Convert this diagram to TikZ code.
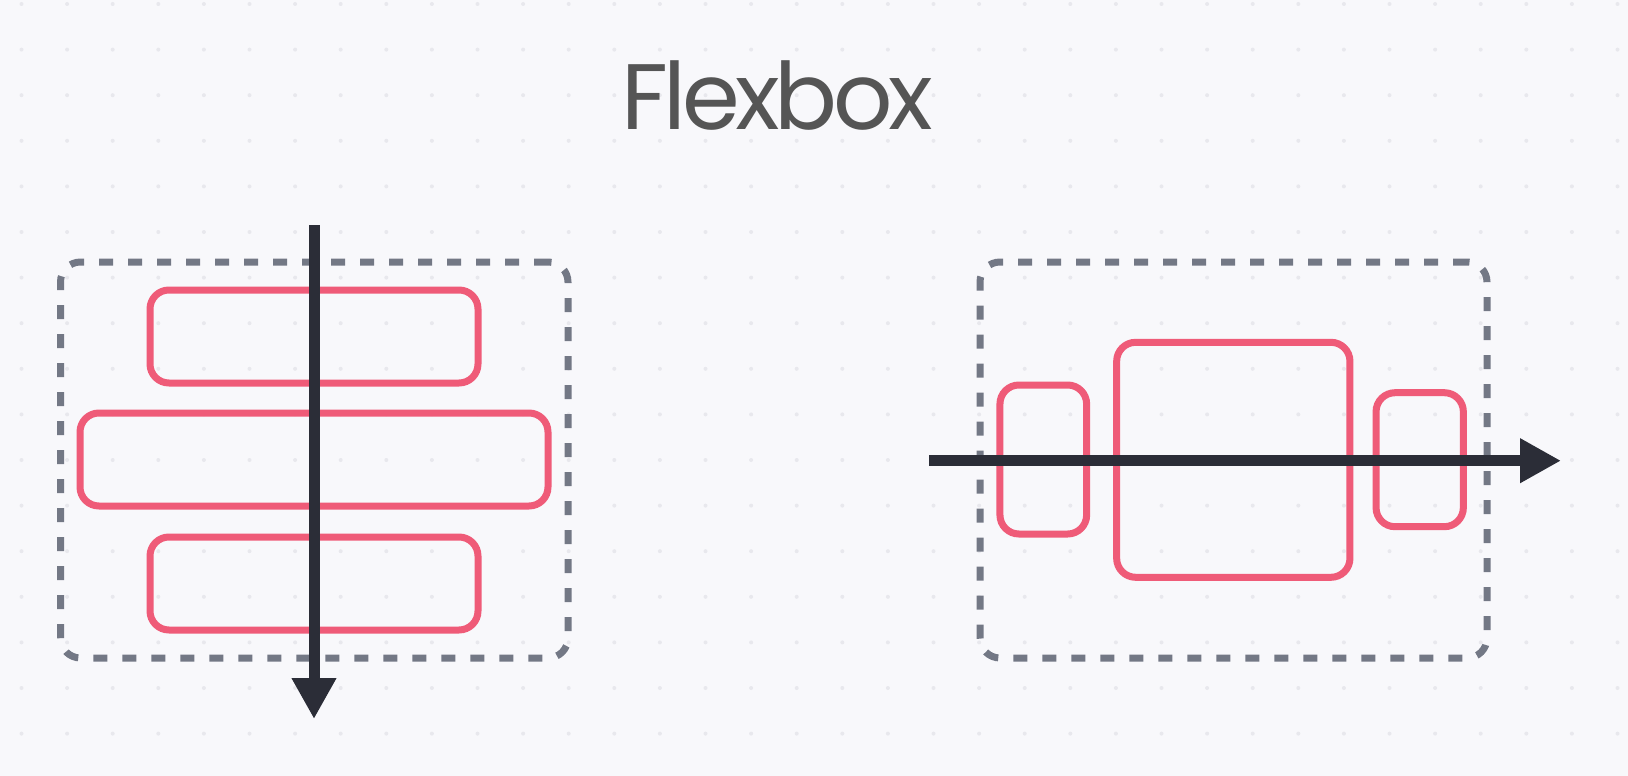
\documentclass[tikz,border=0pt]{standalone}
\usepackage{fontspec}
\newfontfamily\titlefont[LetterSpace=-5]{Poppins}
\usetikzlibrary{arrows.meta}
\definecolor{bgc}{HTML}{F8F8FB}
\definecolor{dotc}{HTML}{E8E8ED}
\definecolor{dashc}{HTML}{737885}
\definecolor{redc}{HTML}{EF5B78}
\definecolor{darkc}{HTML}{2B2D37}
\definecolor{titlec}{HTML}{555555}
\tikzset{
  container/.style={draw=dashc, line width=7pt, dash pattern=on 14pt off 15pt, rounded corners=20pt, rectangle, inner sep=0pt, outer sep=0pt},
  item/.style={draw=redc, line width=7pt, rounded corners=19pt, rectangle, inner sep=0pt, outer sep=0pt},
  axis/.style={draw=darkc, line width=11pt, -{Triangle[length=41pt,width=42pt]}},
}
\begin{document}
\begin{tikzpicture}[x=1pt,y=-1pt]
\path[fill=bgc] (0,0) rectangle (1628,776);
\useasboundingbox (0,0) rectangle (1628,776);
% dot grid
\foreach \i in {0,...,35} {
  \foreach \j in {0,...,17} {
    \fill[dotc] ({21.5+45.6*\i},{4+45.6*\j}) circle (2pt);
  }
}
\node[text=titlec, font=\titlefont\fontsize{93}{100}\selectfont, anchor=base] (title) at (777,129.3) {Flexbox};
% left: column
\node[container, minimum width=507.5pt, minimum height=396pt] (colbox) at (314.25,460) {};
\node[item, minimum width=328pt, minimum height=93pt] (c1) at (314,336.5) {};
\node[item, minimum width=468pt, minimum height=93pt] (c2) at (314,459.5) {};
\node[item, minimum width=328pt, minimum height=93pt] (c3) at (314,583.5) {};
\coordinate (vstart) at (314,225);
\coordinate (vend) at (314,719);
\draw[axis] (vstart) -- (vend);
% right: row
\node[container, minimum width=507pt, minimum height=396pt] (rowbox) at (1233.5,460) {};
\node[item, minimum width=86.7pt, minimum height=149pt] (r1) at (1043.3,459.5) {};
\node[item, minimum width=233.3pt, minimum height=235pt] (r2) at (1233.3,459.8) {};
\node[item, minimum width=87.3pt, minimum height=134pt] (r3) at (1419.7,459.7) {};
\coordinate (hstart) at (929,460.7);
\coordinate (hend) at (1561,460.7);
\draw[axis] (hstart) -- (hend);
\end{tikzpicture}
\end{document}
